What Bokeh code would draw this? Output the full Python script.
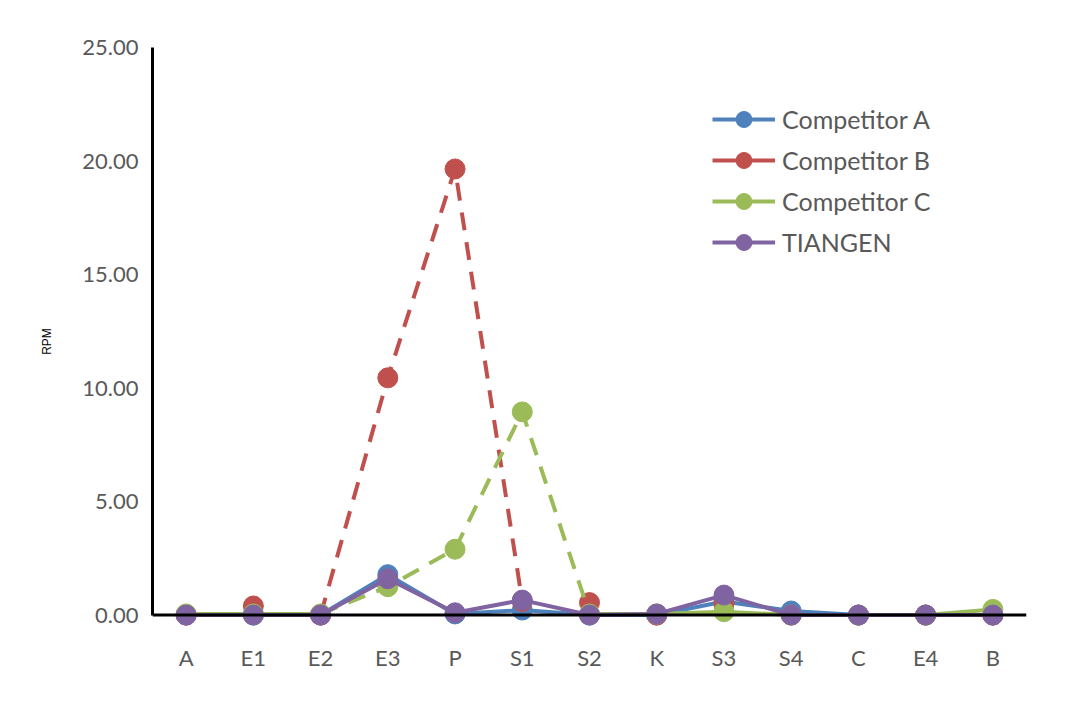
import numpy as np
from bokeh.plotting import figure
from bokeh.models import Range1d, FactorRange, Legend, LegendItem, NumeralTickFormatter, Span
from bokeh.embed import file_html
from bokeh.resources import INLINE

categories = ["A", "E1", "E2", "E3", "P", "S1", "S2", "K", "S3", "S4", "C", "E4", "B"]
competitor_a = [0.0, 0.0, 0.0, 1.78, 0.05, 0.22, 0.0, 0.0, 0.6, 0.18, 0.0, 0.0, 0.0]
competitor_b = [0.0, 0.4, 0.0, 10.45, 19.65, 0.6, 0.55, 0.0, 0.5, 0.0, 0.0, 0.0, 0.0]
competitor_c = [0.05, 0.05, 0.05, 1.25, 2.9, 8.95, 0.05, 0.05, 0.15, 0.0, 0.0, 0.0, 0.25]
tiangen = [0.0, 0.0, 0.0, 1.6, 0.1, 0.66, 0.0, 0.05, 0.88, 0.0, 0.0, 0.0, 0.0]
series_names = ["Competitor A", "Competitor B", "Competitor C", "TIANGEN"]
y_ticks = [0, 5, 10, 15, 20, 25]

colors = ["#4F81BD", "#C0504D", "#9BBB59", "#8064A2"]
# (solid segments, dashed segments) as inclusive index ranges
styles = [
    ([(0, 12)], []),
    ([], [(2, 5)]),
    ([(0, 2), (6, 12)], [(2, 6)]),
    ([(0, 12)], []),
]

FONT = "Lato"
GREY = "#595959"

p = figure(width=1064, height=698, x_range=FactorRange(*categories, range_padding=0),
           y_range=Range1d(-0.9, 25.0), output_backend="svg", toolbar_location=None,
           min_border_left=152, min_border_right=38, min_border_top=47, min_border_bottom=63)
p.outline_line_color = None
p.xgrid.visible = False
p.ygrid.visible = False

all_values = [competitor_a, competitor_b, competitor_c, tiangen]

legend_items = []
for name, vals, col, (solid, dashed) in zip(series_names, all_values, colors, styles):
    vals = np.array(vals, dtype=float)
    solid_r = None
    for a, b in solid:
        r = p.line(x=categories[a:b + 1], y=list(vals[a:b + 1]), line_color=col, line_width=4,
                   line_join="round")
        if solid_r is None:
            solid_r = r
    for a, b in dashed:
        p.line(x=categories[a:b + 1], y=list(vals[a:b + 1]), line_color=col, line_width=4,
               line_dash="18 12")
    if solid_r is None:
        solid_r = p.line(x=categories, y=[float("nan")] * len(categories), line_color=col, line_width=4)
    mk = p.scatter(x=categories, y=list(vals), size=20, fill_color=col, line_color=col, line_width=1)
    legend_items.append(LegendItem(label=name, renderers=[solid_r, mk]))

legend = Legend(items=legend_items, location=(560, 373), border_line_color=None,
                background_fill_alpha=0, padding=0, margin=0, spacing=1,
                glyph_width=63, glyph_height=40, label_text_font=FONT,
                label_text_font_size="25px", label_text_color=GREY, label_standoff=7)
p.add_layout(legend)

zero_line = Span(location=0, dimension="width", line_color="black", line_width=3)
p.add_layout(zero_line)

xa = p.xaxis[0]
xa.axis_line_color = None
xa.major_tick_line_color = None
xa.minor_tick_line_color = None
xa.major_label_text_font = FONT
xa.major_label_text_font_size = "22px"
xa.major_label_text_color = GREY
xa.major_label_standoff = 2

ya = p.yaxis[0]
ya.bounds = (0, 25)
ya.ticker = y_ticks
ya.formatter = NumeralTickFormatter(format="0.00")
ya.axis_line_width = 3
ya.axis_line_color = "black"
ya.major_tick_line_color = None
ya.minor_tick_line_color = None
ya.major_label_text_font = FONT
ya.major_label_text_font_size = "22px"
ya.major_label_text_color = GREY
ya.major_label_standoff = 8
ya.axis_label = "RPM"
ya.axis_label_text_font = "Liberation Sans"
ya.axis_label_text_font_size = "12px"
ya.axis_label_text_font_style = "normal"
ya.axis_label_text_color = "black"
ya.axis_label_standoff = 25

open("out.html", "w").write(file_html(p, INLINE))
